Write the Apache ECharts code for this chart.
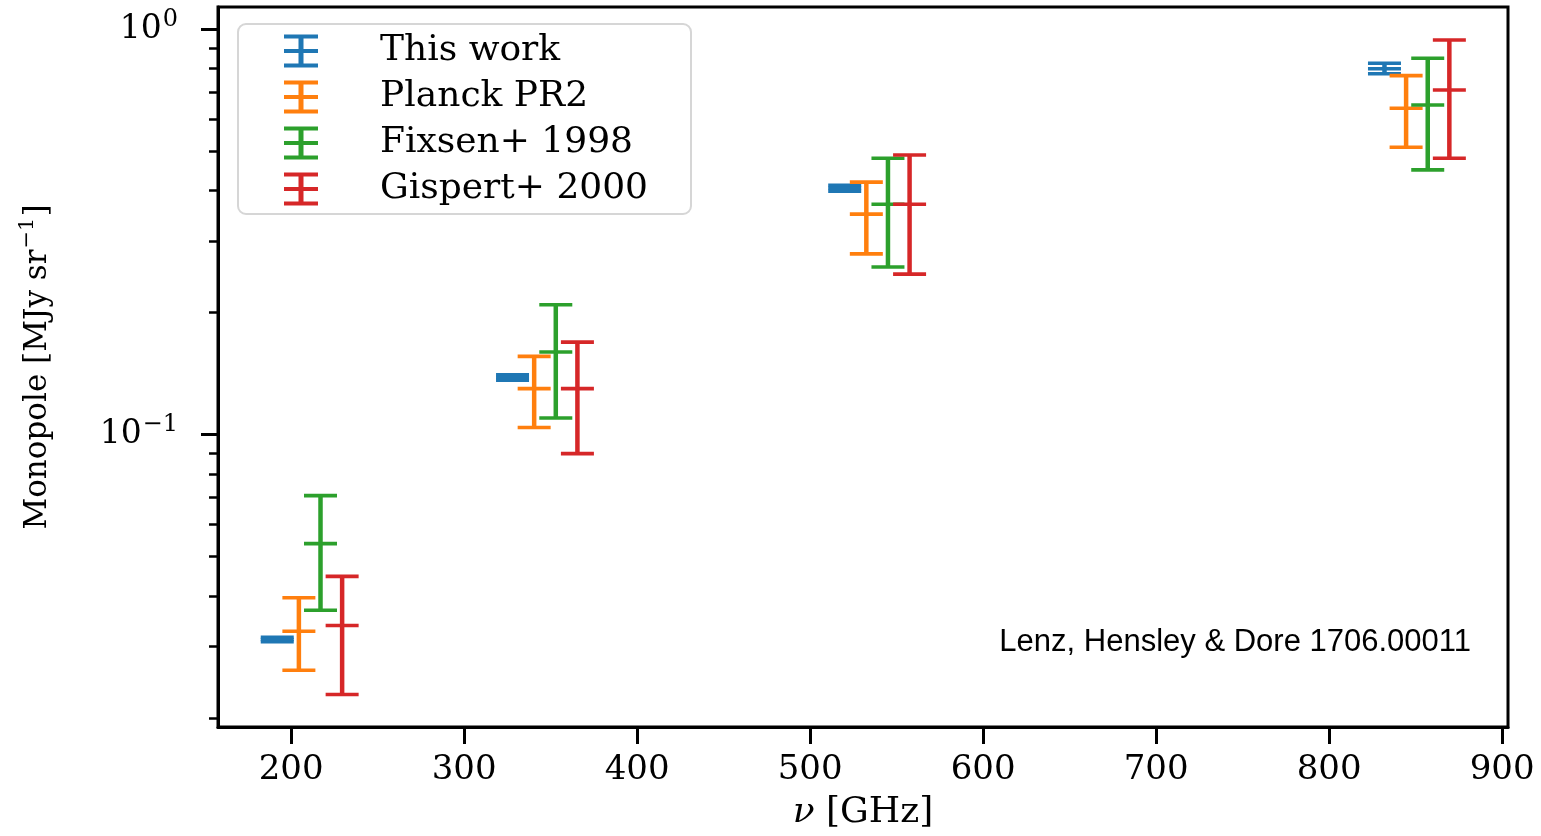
<!DOCTYPE html>
<html>
<head>
<meta charset="utf-8">
<title>Far-infrared monopole comparison</title>
<script src="https://cdn.jsdelivr.net/npm/echarts@6/dist/echarts.min.js"></script>
<style>
  html, body { margin: 0; padding: 0; background: #ffffff; }
  #chart { width: 1541px; height: 836px; }
</style>
</head>
<body>
<div id="chart"></div>
<script>
// Band centres (GHz); each data set is drawn slightly shifted so the bars do not overlap
const bandsGHz = [217, 353, 545, 857];

const seriesNames = ['This work', 'Planck PR2', 'Fixsen+ 1998', 'Gispert+ 2000'];
const seriesShiftGHz = [-25, -12.5, 0, 12.5];
const seriesColors = ['#1f77b4', '#ff7f0e', '#2ca02c', '#d62728'];

// Monopole values and error-bar bounds [MJy/sr]
const thisWork      = [0.03125, 0.1384, 0.4055, 0.7995];
const thisWorkLow   = [0.03085, 0.1363, 0.3986, 0.7770];
const thisWorkHigh  = [0.03166, 0.1405, 0.4124, 0.8245];

const planck        = [0.03275, 0.1299, 0.3500, 0.6387];
const planckLow     = [0.02624, 0.1042, 0.2793, 0.5117];
const planckHigh    = [0.03959, 0.1560, 0.4197, 0.7685];

const fixsen        = [0.05387, 0.1600, 0.3703, 0.6507];
const fixsenLow     = [0.03688, 0.1099, 0.2591, 0.4499];
const fixsenHigh    = [0.07074, 0.2091, 0.4808, 0.8480];

const gispert       = [0.03382, 0.1299, 0.3703, 0.7085];
const gispertLow    = [0.02286, 0.0898, 0.2489, 0.4808];
const gispertHigh   = [0.04473, 0.1692, 0.4898, 0.9410];

// Axis ticks
const xTicks = [200, 300, 400, 500, 600, 700, 800, 900];
const yMajorTicks = [0.1, 1];
const yMinorTicks = [0.02, 0.03, 0.04, 0.05, 0.06, 0.07, 0.08, 0.09,
                     0.2, 0.3, 0.4, 0.5, 0.6, 0.7, 0.8, 0.9];

const xRange = [157.75, 903.4];
const yRange = [0.019008, 1.135];

const serifFont = '"DejaVu Serif", "Liberation Serif", serif';

const values = [thisWork, planck, fixsen, gispert];
const lows = [thisWorkLow, planckLow, fixsenLow, gispertLow];
const highs = [thisWorkHigh, planckHigh, fixsenHigh, gispertHigh];

// Error bar glyph used for the legend keys
const errorBarIcon = 'path://M0,0H34V4H0Z M0,14.5H34V18.5H0Z M0,29H34V33H0Z M14.5,0H19.5V33H14.5Z';

function renderErrorBar(params, api) {
  const x = api.value(0);
  const pc = api.coord([x, api.value(1)]);
  const pl = api.coord([x, api.value(2)]);
  const ph = api.coord([x, api.value(3)]);
  const hw = 16.5;
  const color = api.visual('color');
  const cap = { stroke: color, lineWidth: 3.6, lineCap: 'butt' };
  return {
    type: 'group',
    children: [
      { type: 'line', shape: { x1: pc[0], y1: pl[1], x2: pc[0], y2: ph[1] },
        style: { stroke: color, lineWidth: 4.5 } },
      { type: 'line', shape: { x1: pc[0] - hw, y1: pl[1], x2: pc[0] + hw, y2: pl[1] }, style: cap },
      { type: 'line', shape: { x1: pc[0] - hw, y1: ph[1], x2: pc[0] + hw, y2: ph[1] }, style: cap },
      { type: 'line', shape: { x1: pc[0] - hw, y1: pc[1], x2: pc[0] + hw, y2: pc[1] }, style: cap }
    ]
  };
}

const series = seriesNames.map((name, i) => ({
  name: name,
  type: 'custom',
  renderItem: renderErrorBar,
  itemStyle: { color: seriesColors[i] },
  encode: { x: 0, y: [1, 2, 3] },
  clip: false,
  z: 10 + i,
  data: bandsGHz.map((nu, k) => [nu + seriesShiftGHz[i], values[i][k], lows[i][k], highs[i][k]])
}));

const chart = echarts.init(document.getElementById('chart'), null, { renderer: 'canvas' });

chart.setOption({
  backgroundColor: '#ffffff',
  animation: false,
  color: seriesColors,
  grid: {
    left: 218, right: 33, top: 7, bottom: 108,
    show: true, borderColor: '#000000', borderWidth: 3, backgroundColor: 'transparent'
  },
  legend: {
    orient: 'vertical',
    left: 238, top: 24,
    padding: [9, 19, 7, 46],
    itemWidth: 34, itemHeight: 33, itemGap: 10,
    backgroundColor: 'rgba(255,255,255,0.85)',
    borderColor: '#d6d6d6', borderWidth: 2, borderRadius: 8,
    data: seriesNames.map(n => ({ name: n, icon: errorBarIcon })),
    formatter: name => '{t|' + name + '}',
    textStyle: {
      color: '#000000',
      rich: {
        t: { fontFamily: serifFont, fontSize: 36, lineHeight: 36, width: 292,
             padding: [0, 0, 0, 57], color: '#000000' }
      }
    }
  },
  xAxis: {
    type: 'value',
    min: xRange[0], max: xRange[1],
    name: '{i|ν}{n| [GHz]}',
    nameLocation: 'middle',
    nameGap: 68,
    nameTextStyle: {
      rich: {
        i: { fontFamily: serifFont, fontSize: 36, fontStyle: 'italic', color: '#000' },
        n: { fontFamily: serifFont, fontSize: 36, color: '#000' }
      }
    },
    splitLine: { show: false },
    axisLine: { show: true, lineStyle: { color: '#000', width: 3 } },
    axisTick: { show: true, customValues: xTicks, length: 17, lineStyle: { color: '#000', width: 3 } },
    axisLabel: {
      customValues: xTicks,
      margin: 26,
      fontFamily: serifFont, fontSize: 34, color: '#000'
    }
  },
  yAxis: [
    {
      type: 'log',
      min: yRange[0], max: yRange[1],
      position: 'left',
      name: '{n|Monopole [MJy sr}{s|−1}{n|]}',
      nameLocation: 'middle',
      nameRotate: 90,
      nameGap: 160,
      nameTextStyle: {
        rich: {
          n: { fontFamily: serifFont, fontSize: 31, color: '#000' },
          s: { fontFamily: serifFont, fontSize: 21, color: '#000', padding: [0, 1, 20, 1] }
        }
      },
      splitLine: { show: false },
      axisLine: { show: true, lineStyle: { color: '#000', width: 3 } },
      axisTick: { show: true, customValues: yMajorTicks, length: 17, lineStyle: { color: '#000', width: 3 } },
      axisLabel: {
        customValues: yMajorTicks,
        margin: 40,
        formatter: function (v) {
          const e = Math.round(Math.log10(v));
          const exp = e < 0 ? '−' + (-e) : String(e);
          return '{b|10}{s|' + exp + '}';
        },
        rich: {
          b: { fontFamily: serifFont, fontSize: 33, color: '#000' },
          s: { fontFamily: serifFont, fontSize: 24, color: '#000', padding: [0, 0, 20, 1] }
        }
      }
    },
    {
      type: 'log',
      min: yRange[0], max: yRange[1],
      position: 'left',
      splitLine: { show: false },
      axisLine: { show: false },
      axisLabel: { show: false },
      axisTick: { show: true, customValues: yMinorTicks, length: 9, lineStyle: { color: '#000', width: 2.5 } }
    }
  ],
  graphic: [
    {
      type: 'text',
      x: 1471, y: 642,
      style: {
        text: 'Lenz, Hensley & Dore 1706.00011',
        fontFamily: '"Liberation Sans", Arial, Helvetica, sans-serif',
        fontSize: 31,
        fill: '#000000',
        align: 'right',
        verticalAlign: 'middle'
      },
      z: 100
    }
  ],
  series: series
});
</script>
</body>
</html>
